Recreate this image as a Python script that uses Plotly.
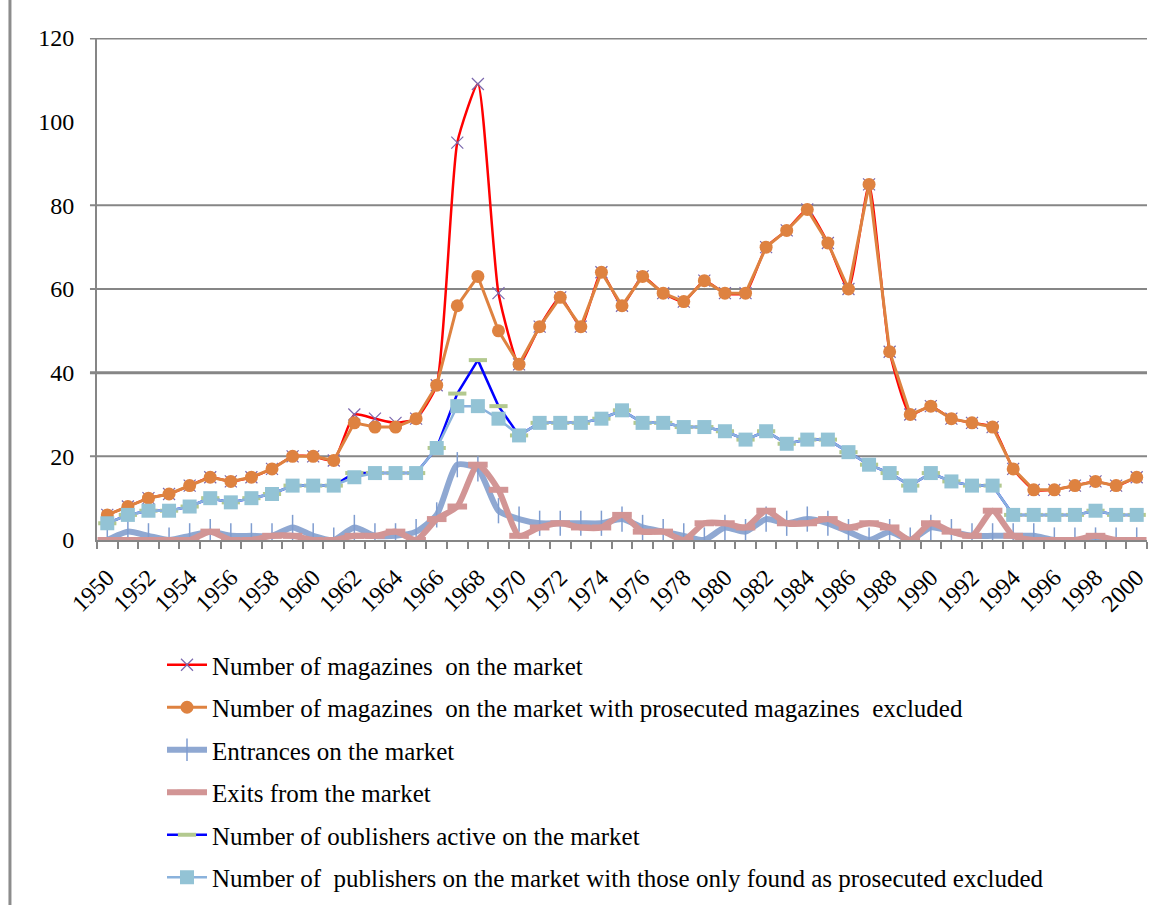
import plotly.graph_objects as go

# ---- data -------------------------------------------------------------
years = list(range(1950, 2001))
year_labels = [str(y) for y in range(1950, 2001, 2)]
y_tick_values = [0, 20, 40, 60, 80, 100, 120]
grid_values = [20, 40, 60, 80, 120]

magazines_total = [6, 8, 10, 11, 13, 15, 14, 15, 17, 20,
                   20, 19, 30, 29, 28, 29, 37, 95, 109, 59,
                   42, 51, 58, 51, 64, 56, 63, 59, 57, 62,
                   59, 59, 70, 74, 79, 71, 60, 85, 45, 30,
                   32, 29, 28, 27, 17, 12, 12, 13, 14, 13,
                   15]
magazines_excl = [6, 8, 10, 11, 13, 15, 14, 15, 17, 20,
                  20, 19, 28, 27, 27, 29, 37, 56, 63, 50,
                  42, 51, 58, 51, 64, 56, 63, 59, 57, 62,
                  59, 59, 70, 74, 79, 71, 60, 85, 45, 30,
                  32, 29, 28, 27, 17, 12, 12, 13, 14, 13,
                  15]
entrances = [0, 2, 1, 0, 1, 2, 1, 1, 1, 3,
             1, 0, 3, 1, 1, 2, 6, 18, 17, 7,
             5, 4, 4, 4, 4, 5, 3, 2, 1, 0,
             3, 2, 5, 4, 5, 4, 2, 0, 2, 0,
             3, 2, 1, 1, 1, 1, 0, 0, 0, 0,
             0]
exits = [0, 0, 0, 0, 0, 2, 0, 0, 1, 1,
         0, 0, 1, 1, 2, 0, 5, 8, 18, 12,
         1, 3, 4, 3, 3, 6, 2, 2, 0, 4,
         4, 3, 7, 4, 4, 5, 3, 4, 3, 0,
         4, 2, 1, 7, 1, 0, 0, 0, 1, 0,
         0]
publishers_active = [4, 6, 7, 7, 8, 10, 9, 10, 11, 13,
                     13, 13, 16, 16, 16, 16, 22, 35, 43, 32,
                     25, 28, 28, 28, 29, 31, 28, 28, 27, 27,
                     26, 24, 26, 23, 24, 24, 21, 18, 16, 13,
                     16, 14, 13, 13, 6, 6, 6, 6, 7, 6,
                     6]
publishers_excl = [4, 6, 7, 7, 8, 10, 9, 10, 11, 13,
                   13, 13, 15, 16, 16, 16, 22, 32, 32, 29,
                   25, 28, 28, 28, 29, 31, 28, 28, 27, 27,
                   26, 24, 26, 23, 24, 24, 21, 18, 16, 13,
                   16, 14, 13, 13, 6, 6, 6, 6, 7, 6,
                   6]

NB = "\u00a0"
names = [
    "Number of magazines" + NB + " on the market",
    "Number of magazines" + NB + " on the market with prosecuted magazines" + NB + " excluded",
    "Entrances on the market",
    "Exits from the market",
    "Number of oublishers active on the market",
    "Number of" + NB + " publishers on the market with those only found as prosecuted excluded",
]

GRAY = "#868686"
FONT = "Liberation Serif, Times New Roman, serif"

fig = go.Figure()

fig.add_trace(go.Scatter(
    x=years, y=magazines_total, name=names[0], mode="lines+markers",
    line=dict(color="#FF0000", width=2.5, shape="spline", smoothing=0.5),
    marker=dict(symbol="x-thin", size=12, line=dict(color="#7B68AE", width=1.2)),
    legendgroup="a"))

fig.add_trace(go.Scatter(
    x=years, y=magazines_excl, name=names[1], mode="lines+markers",
    line=dict(color="#DE8240", width=3),
    marker=dict(symbol="circle", size=13, color="#DE8240"),
    legendgroup="b"))

fig.add_trace(go.Scatter(
    x=years, y=entrances, name=names[2], mode="lines+markers",
    line=dict(color="#8FA8D2", width=6, shape="spline", smoothing=0.6),
    marker=dict(symbol="line-ns", size=18, line=dict(color="#7F9DD0", width=1.5)),
    legendgroup="c"))

fig.add_trace(go.Scatter(
    x=years, y=exits, name=names[3], mode="lines+markers",
    line=dict(color="#D29595", width=6, shape="spline", smoothing=0.6),
    marker=dict(symbol="line-ew", size=14, line=dict(color="#D29595", width=6)),
    legendgroup="d"))

fig.add_trace(go.Scatter(
    x=years, y=publishers_active, name=names[4], mode="lines+markers",
    line=dict(color="#0000FF", width=2.5),
    marker=dict(symbol="line-ew", size=13, line=dict(color="#B3C98F", width=4)),
    legendgroup="e"))

fig.add_trace(go.Scatter(
    x=years, y=publishers_excl, name=names[5], mode="lines+markers",
    line=dict(color="#8AB2DC", width=2.5),
    marker=dict(symbol="square", size=14, color="#93C3D5"),
    legendgroup="f"))

# horizontal gridlines (with short stubs left of the axis)
for g in grid_values:
    fig.add_shape(type="line", xref="paper", yref="y", x0=-0.0067, x1=1,
                  y0=g, y1=g, layer="below",
                  line=dict(color=GRAY, width=3 if g in (40, 120) else 2))

# outer frame edge on the left
fig.add_shape(type="line", xref="paper", yref="paper",
              x0=-0.0829, x1=-0.0829, y0=-1.0, y1=1.1,
              line=dict(color="#8C8C8C", width=3))

fig.update_layout(
    width=1169, height=905,
    margin=dict(l=97, r=22, t=38, b=364.5, pad=0, autoexpand=False),
    paper_bgcolor="white", plot_bgcolor="white",
    font=dict(family=FONT, color="black", size=24),
    showlegend=True,
    legend=dict(
        xref="container", yref="container",
        x=162 / 1169, xanchor="left", y=1 - 642 / 905, yanchor="top",
        orientation="v", traceorder="grouped", tracegroupgap=7,
        font=dict(family=FONT, size=25, color="black"),
        bgcolor="rgba(0,0,0,0)", itemwidth=40,
    ),
    xaxis=dict(
        range=[1949.5, 2000.5], showgrid=False, zeroline=False, automargin=False,
        showline=True, linecolor=GRAY, linewidth=2,
        tickmode="array", tickvals=list(range(1950, 2001, 2)), ticktext=year_labels,
        tickangle=-45, ticks="", ticklabelstandoff=12,
        tickfont=dict(family=FONT, size=24, color="black"),
        minor=dict(tickvals=[y - 0.5 for y in years] + [2000.5], ticks="outside",
                   ticklen=7, tickwidth=2, tickcolor=GRAY, showgrid=False),
    ),
    yaxis=dict(
        range=[0, 120], showgrid=False, zeroline=False, automargin=False,
        showline=True, linecolor=GRAY, linewidth=2,
        tickmode="array", tickvals=y_tick_values,
        ticktext=[str(v) for v in y_tick_values],
        ticks="", ticklabelstandoff=16,
        tickfont=dict(family=FONT, size=24, color="black"),
    ),
)

fig.write_html("out.html")
